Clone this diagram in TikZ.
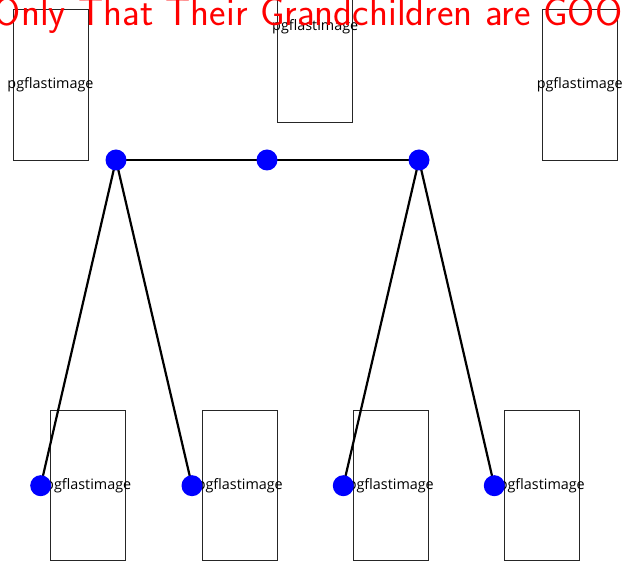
\documentclass[tikz,border=0pt]{standalone}
\usepackage{fontspec}
\newfontfamily\lblfont{Open Sans}
\newlength\titleWa
\newlength\titleWb
\newlength\lblW
\AtBeginDocument{%
  \settowidth\titleWa{\sffamily\fontsize{20}{24}\selectfont That Their Grandchildren are\ }%
  \settowidth\titleWb{\sffamily\fontsize{20}{24}\selectfont Only\ }%
  \settowidth\lblW{\lblfont\fontsize{10}{12}\selectfont pgflastimage}%
  \pgfmathsetmacro\tsize{465*20/\titleWa}\global\let\tsize\tsize
  \pgfmathsetmacro\tx{78-\titleWb*\tsize/20}\global\let\tx\tx
  \pgfmathsetmacro\lsize{86*10/\lblW}\global\let\lsize\lsize
}
\begin{document}
\begin{tikzpicture}[x=1pt,y=-1pt,
  imgbox/.style={draw=black!85,line width=0.9pt},
  lbl/.style={font=\lblfont\fontsize{\lsize}{\lsize}\selectfont,inner sep=0pt},
  dot/.style={circle,fill=blue,inner sep=0pt,minimum size=21pt},
  edge/.style={line width=2.2pt,black}]
\useasboundingbox (0,0) rectangle (625,561);
\clip (0,0) rectangle (625,561);
% image boxes
\draw[imgbox] (13,9) rectangle (88,160);
\node[lbl] (l1) at (50.5,84.5) {pgflastimage};
\draw[imgbox] (277.7,-30) rectangle (352.7,122);
\node[lbl] (l2) at (315.2,27) {pgflastimage};
\draw[imgbox] (542.3,9) rectangle (617.3,160);
\node[lbl] (l3) at (579.8,84.5) {pgflastimage};
\draw[imgbox] (50.7,410.7) rectangle (125.7,560);
\node[lbl] (b1) at (88.2,485.7) {pgflastimage};
\draw[imgbox] (202.3,410.7) rectangle (277.3,560);
\node[lbl] (b2) at (239.8,485.7) {pgflastimage};
\draw[imgbox] (353.3,410.7) rectangle (428.3,560);
\node[lbl] (b3) at (390.8,485.7) {pgflastimage};
\draw[imgbox] (504.3,410.7) rectangle (579.3,560);
\node[lbl] (b4) at (541.8,485.7) {pgflastimage};
% title
\node[anchor=base west,inner sep=0pt,text=red,font=\sffamily\fontsize{\tsize}{\tsize}\selectfont] (title) at (\tx,25.7) {Only That Their Grandchildren are GOOD};
% tree
\coordinate (t1) at (116,160);
\coordinate (t2) at (267,160);
\coordinate (t3) at (419,160);
\coordinate (d1) at (40.7,485.7);
\coordinate (d2) at (192,485.7);
\coordinate (d3) at (343.3,485.7);
\coordinate (d4) at (494.3,485.7);
\draw[edge] (t1) -- (t3);
\draw[edge] (t1) -- (d1);
\draw[edge] (t1) -- (d2);
\draw[edge] (t3) -- (d3);
\draw[edge] (t3) -- (d4);
\foreach \p in {t1,t2,t3,d1,d2,d3,d4} \node[dot] (n\p) at (\p) {};
\end{tikzpicture}
\end{document}
